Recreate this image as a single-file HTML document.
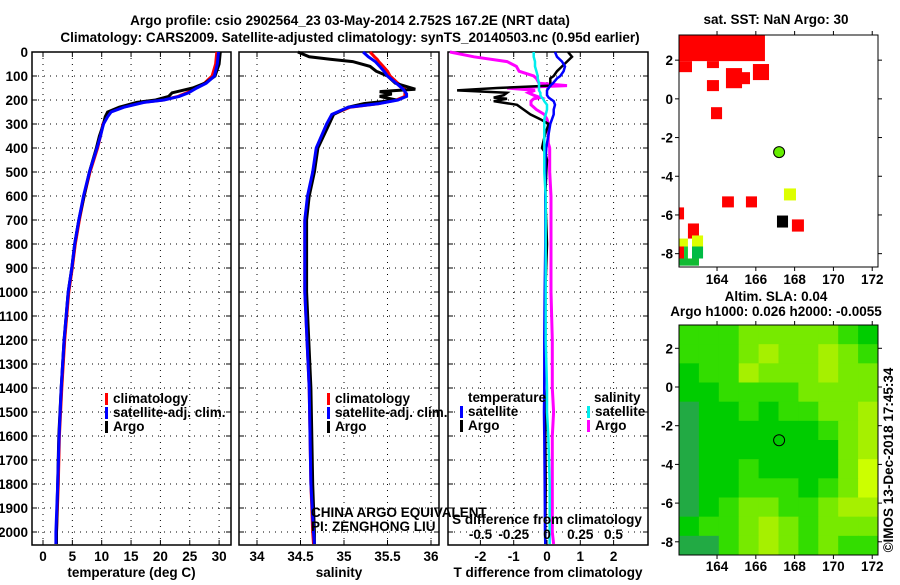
<!DOCTYPE html>
<html><head><meta charset="utf-8">
<style>
html,body{margin:0;padding:0;background:#fff;}
svg text{font-family:"Liberation Sans",sans-serif;font-weight:bold;font-size:13.5px;fill:#000;}
</style></head>
<body>
<svg id="chart" width="900" height="580" xmlns="http://www.w3.org/2000/svg">
<text x="350" y="25" text-anchor="middle" font-size="14.5">Argo profile: csio 2902564_23 03-May-2014 2.752S 167.2E (NRT data)</text>
<text x="350" y="42" text-anchor="middle" font-size="14.5">Climatology: CARS2009. Satellite-adjusted climatology: synTS_20140503.nc (0.95d earlier)</text>
<g id="g"></g>
</svg>
<script>
// ---- profile data ----
const tDepth = [0,50,100,130,150,170,185,200,210,230,250,270,300,350,400,500,600,700,800,900,1000,1200,1400,1600,1800,2000,2050];
const tClim = [29.6,29.4,28.8,27.5,26,24.5,23,20.5,17,13.6,11.4,10.8,10.2,9.8,9.3,8,7,6.2,5.5,5,4.4,3.7,3.2,2.8,2.6,2.3,2.2];
const tSat = [29.9,29.7,29.2,27.8,26.2,24.8,23.2,20.6,17.2,13.8,11.6,11,10.3,9.8,9.2,7.9,6.9,6.1,5.4,4.9,4.3,3.6,3.1,2.75,2.5,2.2,2.2];
const tArgo = [30.2,30,29.3,27.6,25.5,22,21.4,19.2,16,13,11,10.6,10.3,9.6,9.1,7.9,7,6.1,5.4,4.9,4.3,3.6,3.1,2.7,2.5,2.3,2.3];
const sDepth = [0,20,30,40,60,80,100,130,155,165,175,185,200,215,230,260,300,400,500,600,700,1000,1400,1800,2000,2050];
const sClim = [35.3,35.35,35.38,35.4,35.45,35.5,35.53,35.62,35.7,35.7,35.7,35.7,35.6,35.4,35.07,34.87,34.82,34.69,34.65,34.59,34.55,34.55,34.6,34.62,34.64,34.65];
const sSat = [35.22,35.28,35.32,35.36,35.41,35.46,35.5,35.6,35.68,35.7,35.72,35.72,35.62,35.4,35.05,34.86,34.8,34.68,34.64,34.58,34.55,34.55,34.6,34.62,34.65,34.66];
const sArgo = [34.47,34.6,34.84,35.1,35.3,35.37,35.5,35.59,35.82,35.41,35.55,35.41,35.6,35.23,35.05,34.88,34.83,34.7,34.66,34.6,34.57,34.57,34.62,34.64,34.66,34.66];
const dDepth = [0,20,40,60,80,100,110,130,140,150,160,170,180,190,195,205,220,240,260,280,300,340,380,400,420,450,500,600,800,1000,1200,1400,1500,1600,1800,2000,2050];
const dTsat = [0.24,0.3,0.45,0.54,0.5,0.4,0.3,0.18,0.1,0.05,0,0,0,0.05,0.1,0.2,0.24,0.2,0.2,0.15,0.1,0.05,0,-0.02,-0.03,-0.05,-0.05,-0.05,-0.05,-0.07,-0.08,-0.08,-0.09,-0.08,-0.07,-0.06,-0.05];
const dTargo = [0.63,0.75,0.6,0.45,0.3,0.2,0.1,0.1,0.1,-1.5,-2.7,-1.2,-1.3,-1.6,-1.2,-1.6,-0.9,-0.7,-0.5,-0.2,0.05,-0.05,-0.12,-0.15,-0.05,0,-0.02,-0.05,0,-0.05,-0.05,-0.08,-0.03,-0.05,-0.04,-0.05,-0.05];
const dSsat = [-0.1,-0.1,-0.09,-0.09,-0.08,-0.07,-0.07,-0.06,-0.06,-0.06,-0.06,-0.05,-0.05,-0.04,-0.03,-0.02,0,0,-0.01,-0.02,-0.02,-0.02,-0.02,-0.02,-0.02,-0.02,-0.02,-0.01,-0.01,-0.01,-0.01,0,0,0.01,0.02,0.02,0.02];
const dSargo = [-0.73,-0.55,-0.3,-0.23,-0.21,-0.1,-0.08,-0.06,0.15,-0.3,-0.09,-0.14,-0.1,-0.05,-0.1,-0.12,-0.12,-0.08,-0.02,0,0.01,0.01,0.01,0.02,0.02,0.02,0.02,0.03,0.03,0.03,0.04,0.04,0.05,0.04,0.04,0.04,0.05];
const depthTicks = [0,100,200,300,400,500,600,700,800,900,1000,1100,1200,1300,1400,1500,1600,1700,1800,1900,2000];
const tTicks = [0,5,10,15,20,25,30];
const sTicks = [34,34.5,35,35.5,36];
const dtTicks = [-2,-1,0,1,2];
const dsTicks = [-0.5,-0.25,0,0.25,0.5];
// ---- map data ----
const sstLon0 = [162.04,162.04,163.48,164.46,165.03,165.85,163.48,163.69,164.26,165.49,167.45,167.09,167.86,162.04,162.5,162.04,162.04,162.3,162.71,162.71,162.04];
const sstLat0 = [3.3,1.95,1.95,1.59,1.38,1.8,0.97,-0.43,-5.04,-5.04,-4.63,-6.03,-6.23,-5.61,-6.44,-7.22,-7.63,-7.63,-7.06,-7.63,-8.25];
const sstLon1 = [166.47,162.71,164.1,165.29,165.7,166.68,164.1,164.26,164.87,166.06,168.07,167.66,168.48,162.3,163.07,162.5,162.3,162.5,163.28,163.28,163.07];
const sstLat1 = [1.95,1.38,1.59,0.55,0.76,0.97,0.4,-1.05,-5.61,-5.61,-5.25,-6.65,-6.86,-6.23,-7.22,-7.63,-8.25,-8.25,-7.63,-8.25,-8.62];
const sstCol = ['#ff0000','#ff0000','#ff0000','#ff0000','#ff0000','#ff0000','#ff0000','#ff0000','#ff0000','#ff0000','#ddff00','#000000','#ff0000','#ff0000','#ff0000','#ddff00','#ff0000','#11cc33','#ddff00','#00bb44','#11bb33'];
const argoLon = 167.2, argoLat = -2.752;
const slaGrid = [
[2,2,2,3,3,3,3,3,2,1],
[2,2,2,3,4,3,3,4,3,2],
[1,2,2,4,3,3,3,4,3,3],
[1,1,2,2,2,2,3,3,3,3],
[0,1,1,2,1,2,2,3,3,4],
[0,1,1,1,1,1,1,2,3,4],
[0,1,1,1,1,1,1,1,3,4],
[0,1,1,2,1,1,1,1,3,5],
[0,1,1,2,2,2,1,2,3,5],
[0,1,2,3,3,2,2,3,4,4],
[1,2,2,3,4,3,2,3,3,3],
[0,0,2,3,4,3,2,3,2,2]];
const slaColors = ['#22aa44','#00cc00','#33dd00','#77ea00','#a6f000','#ccff00'];
const lonTicks = [164,166,168,170,172];
const latTicks = [2,0,-2,-4,-6,-8];

const NS='http://www.w3.org/2000/svg';
const G=document.getElementById('g');
function el(tag,attrs,parent){const e=document.createElementNS(NS,tag);for(const k in attrs)e.setAttribute(k,attrs[k]);(parent||G).appendChild(e);return e;}
function txt(x,y,s,anchor,parent,extra){const t=el('text',Object.assign({x:x,y:y,'text-anchor':anchor||'start'},extra||{}),parent);t.textContent=s;return t;}

const PT=52,PB=545;
const yD=d=>PT+d*0.24;

function panel(name,x0,x1,xs,xticks,fmt,xlabel,showY){
  const g=el('g',{});
  
  
  depthTicks.forEach(d=>{el('line',{x1:x0,x2:x1,y1:yD(d),y2:yD(d),stroke:'#000','stroke-dasharray':'1,5'},g);
    el('line',{x1:x0,x2:x0+5,y1:yD(d),y2:yD(d),stroke:'#000'},g);el('line',{x1:x1-5,x2:x1,y1:yD(d),y2:yD(d),stroke:'#000'},g);
    if(showY){const t=txt(x0-4,yD(d)+5,String(d),'end',g,{'font-size':'14'});}});
  xticks.forEach(v=>{const x=xs(v);el('line',{x1:x,x2:x,y1:PT,y2:PB,stroke:'#000','stroke-dasharray':'1,5'},g);
    el('line',{x1:x,x2:x,y1:PB-5,y2:PB,stroke:'#000'},g);el('line',{x1:x,x2:x,y1:PT,y2:PT+5,stroke:'#000'},g);});
  xticks.forEach(v=>{const t=txt(xs(v),561,fmt(v),'middle',g,{'font-size':'14'});});
  el('rect',{x:x0,y:PT,width:x1-x0,height:PB-PT,fill:'none',stroke:'#000','stroke-width':1.5},g);
  const xl=txt((x0+x1)/2,577,xlabel,'middle',g,{'font-size':'14'});
  return g;
}
function line(g,xs,ds,vs,col,w,name){
  const p=ds.map((d,i)=>(i?'L':'M')+xs(vs[i]).toFixed(1)+','+yD(d).toFixed(1)).join('');
  const e=el('path',{d:p,fill:'none',stroke:col,'stroke-width':w},g);
  
  
}
function legend(g,x,y,items){items.forEach((it,i)=>{
  const r=el('rect',{x:x,y:y+i*14-10,width:3,height:12,fill:it[1]},g);
  
  const t=txt(x+8,y+i*14,it[0],'start',g,{'font-size':'14'});});}

const xT=v=>43+v*5.87;
const g1=panel('temperature-panel',32,231,xT,tTicks,v=>String(v),'temperature (deg C)',true);
line(g1,xT,tDepth,tClim,'#ff0000',3,'temperature-climatology-line');
line(g1,xT,tDepth,tArgo,'#000000',3,'temperature-argo-line');
line(g1,xT,tDepth,tSat,'#0000ff',3,'temperature-satellite-line');
legend(g1,105,403,[['climatology','#ff0000'],['satellite-adj. clim.','#0000ff'],['Argo','#000000']]);

const xS=v=>257+(v-34)*87;
const g2=panel('salinity-panel',239,439,xS,sTicks,v=>String(v),'salinity',false);
line(g2,xS,sDepth,sClim,'#ff0000',3,'salinity-climatology-line');
line(g2,xS,sDepth,sArgo,'#000000',3,'salinity-argo-line');
line(g2,xS,sDepth,sSat,'#0000ff',3,'salinity-satellite-line');
legend(g2,327,403,[['climatology','#ff0000'],['satellite-adj. clim.','#0000ff'],['Argo','#000000']]);
const c1=txt(311,517,'CHINA ARGO EQUIVALENT','start',g2,{'font-weight':'normal','font-size':'12.5'});
const c2=txt(311,531,'PI: ZENGHONG LIU','start',g2,{'font-weight':'normal','font-size':'12.5'});

const xDT=v=>547+v*33.3, xDS=v=>547+v*133;
const g3=panel('difference-panel',448,648,xDT,dtTicks,v=>String(v),'T difference from climatology',false);
line(g3,xDS,dDepth,dSargo,'#ff00ff',3,'salinity-argo-diff-line');
line(g3,xDT,dDepth,dTargo,'#000000',2.5,'temperature-argo-diff-line');
line(g3,xDT,dDepth,dTsat,'#0000ff',2.5,'temperature-satellite-diff-line');
line(g3,xDS,dDepth,dSsat,'#00eeee',2.5,'salinity-satellite-diff-line');
const th=txt(468,402,'temperature','start',g3,{'font-size':'14'});
const sh=txt(594,402,'salinity','start',g3,{'font-size':'14'});
legend(g3,460,416,[['satellite','#0000ff'],['Argo','#000000']]);
legend(g3,587,416,[['satellite','#00eeee'],['Argo','#ff00ff']]);
const sdt=txt(547,524,'S difference from climatology','middle',g3,{'font-size':'14'});
dsTicks.forEach(v=>{const t=txt(xDS(v),539,v===0?'0':String(v),'middle',g3,{'font-size':'14'});});

function mapFrame(name,top,bottom,lat0y){
  const g=el('g',{});
  
  
  const mx=lon=>679+(lon-162.04)*19.4, my=lat=>lat0y-lat*19.35;
  return {g,mx,my,top,bottom};
}
function mapAxes(m,labelY){
  const g=m.g;
  el('rect',{x:679,y:m.top,width:199,height:m.bottom-m.top,fill:'none',stroke:'#000','stroke-width':1},g);
  lonTicks.forEach(l=>{const x=m.mx(l);el('line',{x1:x,x2:x,y1:m.top-4,y2:m.top,stroke:'#000'},g);el('line',{x1:x,x2:x,y1:m.bottom,y2:m.bottom+4,stroke:'#000'},g);
    const t=txt(x,labelY,String(l),'middle',g,{'font-size':'14'});});
  latTicks.forEach(l=>{const y=m.my(l);if(y<m.top||y>m.bottom)return;el('line',{x1:675,x2:679,y1:y,y2:y,stroke:'#000'},g);el('line',{x1:878,x2:882,y1:y,y2:y,stroke:'#000'},g);
    const t=txt(673,y+5,String(l),'end',g,{'font-size':'14'});});
}
const m1=mapFrame('sst-map',35,267,35+3.3*19.35);
sstLon0.forEach((l,i)=>{const x0=m1.mx(l),x1=m1.mx(sstLon1[i]),y0=m1.my(sstLat0[i]),y1=m1.my(sstLat1[i]);
  const r=el('rect',{x:x0,y:y0,width:x1-x0,height:y1-y0,fill:sstCol[i]},m1.g);
  
  });
const dot=el('circle',{cx:m1.mx(argoLon),cy:m1.my(argoLat),r:5.5,fill:'#66ee00',stroke:'#000','stroke-width':1},m1.g);


mapAxes(m1,284);
const mt1=txt(776,24,'sat. SST: NaN Argo: 30','middle',m1.g,{'font-size':'14'});

const m2=mapFrame('sla-map',325,555,387);
const cw=199/10, ch=230/12;
slaGrid.forEach((row,r)=>row.forEach((v,c)=>{
  const rc=el('rect',{x:679+c*cw,y:325+r*ch,width:cw+0.5,height:ch+0.5,fill:slaColors[v]},m2.g);
  
  }));
const ring=el('circle',{cx:m2.mx(argoLon),cy:m2.my(argoLat),r:5.5,fill:'none',stroke:'#000','stroke-width':1},m2.g);


mapAxes(m2,571);
const mt2=txt(776,301,'Altim. SLA: 0.04','middle',m2.g,{'font-size':'14'});
const mt3=txt(776,316,'Argo h1000: 0.026 h2000: -0.0055','middle',m2.g,{'font-size':'14'});
const cp=txt(0,0,'©IMOS 13-Dec-2018 17:45:34','middle',G,{'font-weight':'normal','font-size':'13.5',transform:'translate(893,460) rotate(-90)'});


</script>
</body></html>
